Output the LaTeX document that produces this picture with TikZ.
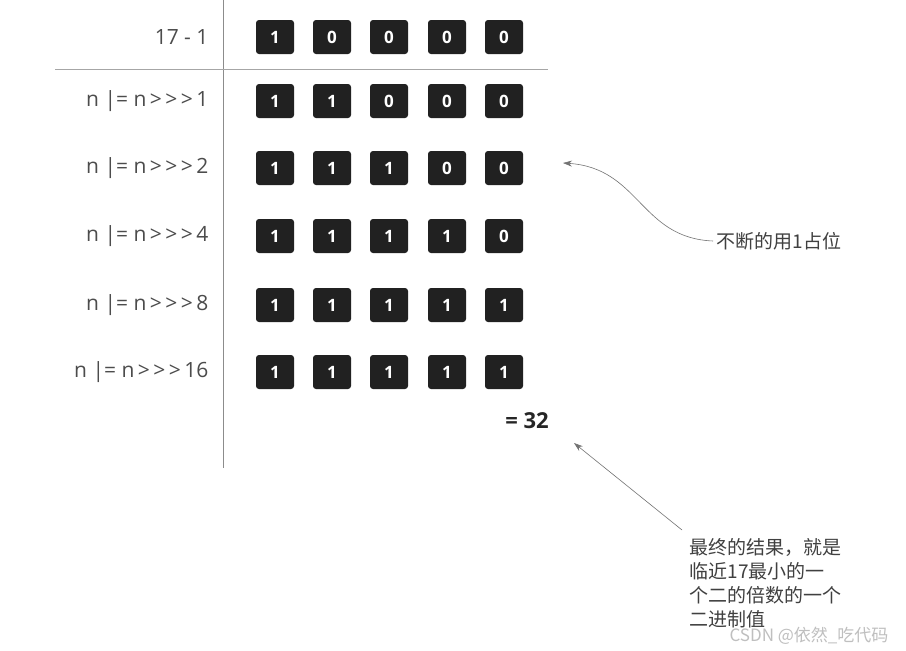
\documentclass[tikz,border=0pt]{standalone}
\usepackage{fontspec}
\usetikzlibrary{arrows.meta}
\setmainfont{Open Sans}[Ligatures=NoCommon]
\newfontfamily\cjk{Noto Sans CJK SC}
\newcommand{\gtr}{\,>\,>\,>\,}
\begin{document}
\begin{tikzpicture}[x=1pt,y=-1pt,
  bit/.style={fill=black!87,rounded corners=3pt,minimum width=38pt,minimum height=34pt,text=white,font=\bfseries\fontsize{17}{17}\selectfont,inner sep=0pt},
  lab/.style={anchor=east,text=black!70,font=\fontsize{21}{21}\selectfont},
  note/.style={text=black!75,font=\cjk\fontsize{19}{24}\selectfont,align=left},
  conn/.style={draw=black!55,line width=0.6pt,-{Stealth[length=9pt,width=6pt]}}]
\useasboundingbox[fill=white] (0,0) rectangle (906,651);
\draw[black!45,line width=0.8pt] (223,0) -- (223,468);
\draw[black!35,line width=0.8pt] (55,69) -- (548,69);
\foreach \r/\y/\t/\b in {0/37/17 - 1/10000,1/101/n |= n\gtr 1/11000,2/168/n |= n\gtr 2/11100,3/236/n |= n\gtr 4/11110,4/305/n |= n\gtr 8/11111,5/372/n |= n\gtr 16/11111}{
  \node[lab] (l\r) at (212,\y) {\t};
  \foreach \i/\x in {1/275,2/332,3/389,4/447,5/504}{
    \pgfmathsetmacro\d{int(mod(floor(\b/10^(5-\i)),10))}
    \node[bit] (b\r\i) at (\x,\y) {\d};
  }
}
\node[font=\bfseries\fontsize{22}{22}\selectfont,text=black!85] (res) at (527,421) {= 32};
\node[note,anchor=west] (n1) at (713,241) {不断的用1占位};
\draw[conn] (n1.west) .. controls (640,238) and (640,168) .. (563,163);
\node[note,anchor=north west] (n2) at (686,535) {最终的结果，就是\\临近17最小的一\\个二的倍数的一个\\二进制值};
\coordinate (a2) at (574,443);
\draw[conn] (682,530) -- (a2);
\node[text=black!25,font=\cjk\fontsize{17}{17}\selectfont,anchor=east] (wm) at (892,636) {CSDN @依然\_吃代码};
\end{tikzpicture}
\end{document}
